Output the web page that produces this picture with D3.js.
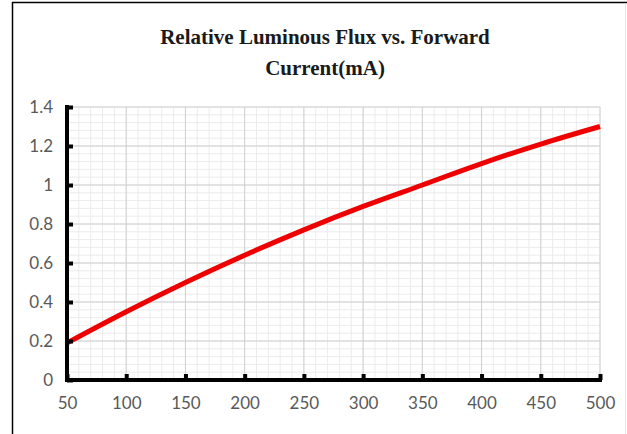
<!DOCTYPE html>
<html><head><meta charset="utf-8">
<script src="https://cdn.jsdelivr.net/npm/d3@7"></script>
<style>html,body{margin:0;padding:0;background:#fff;}svg{display:block;}</style>
</head><body>
<svg id="chart" width="627" height="434"></svg>
<script>
const currents = [50,100,150,200,250,300,350,400,450,500];
const flux = [0.19,0.35,0.50,0.64,0.77,0.89,1.00,1.11,1.21,1.30];
const xTicks = [50,100,150,200,250,300,350,400,450,500];
const yTicks = [0,0.2,0.4,0.6,0.8,1,1.2,1.4];
const titleLines = ["Relative Luminous Flux vs. Forward","Current(mA)"];

const svg = d3.select("#chart");
const x = d3.scaleLinear().domain([50,500]).range([67,600]);
const y = d3.scaleLinear().domain([0,1.4]).range([380,107]);

// frame
svg.append("line").attr("x1",12.5).attr("x2",12.5).attr("y1",2).attr("y2",434).attr("stroke","#000").attr("stroke-width",1.5);
svg.append("line").attr("x1",12).attr("x2",627).attr("y1",2.5).attr("y2",2.5).attr("stroke","#000").attr("stroke-width",1.5);
svg.append("line").attr("x1",625.5).attr("x2",625.5).attr("y1",3).attr("y2",434).attr("stroke","#e6e6e6").attr("stroke-width",1);

// minor grid
const g = svg.append("g");
const xMinor = d3.range(50,500.1,10);
const yMinor = d3.range(0,1.4001,0.04);
g.selectAll(".xm").data(xMinor).join("line")
  .attr("x1",d=>x(d)).attr("x2",d=>x(d)).attr("y1",y(1.4)).attr("y2",y(0))
  .attr("stroke","#ececec").attr("stroke-width",1);
g.selectAll(".ym").data(yMinor).join("line")
  .attr("x1",x(50)).attr("x2",x(500)).attr("y1",d=>y(d)).attr("y2",d=>y(d))
  .attr("stroke","#ececec").attr("stroke-width",1);
// major grid
g.selectAll(".xM").data(xTicks).join("line")
  .attr("x1",d=>x(d)).attr("x2",d=>x(d)).attr("y1",y(1.4)).attr("y2",y(0))
  .attr("stroke","#d0d0d0").attr("stroke-width",1);
g.selectAll(".yM").data(yTicks).join("line")
  .attr("x1",x(50)).attr("x2",x(500)).attr("y1",d=>y(d)).attr("y2",d=>y(d))
  .attr("stroke","#d0d0d0").attr("stroke-width",1);

// line
const line = d3.line().x((d,i)=>x(currents[i])).y(d=>y(d)).curve(d3.curveMonotoneX);
svg.append("path").datum(flux).attr("d",line).attr("fill","none")
  .attr("stroke","#ee0000").attr("stroke-width",5).attr("stroke-linecap","butt");

// axes
const fmt = d=>String(+d.toFixed(1));
const yAxis = svg.append("g").attr("transform",`translate(${x(50)},0)`)
  .call(d3.axisLeft(y).tickValues(yTicks).tickFormat(fmt).tickSizeInner(-6).tickSizeOuter(0).tickPadding(14));
const xAxis = svg.append("g").attr("transform",`translate(0,${y(0)})`)
  .call(d3.axisBottom(x).tickValues(xTicks).tickSizeInner(-6).tickSizeOuter(0).tickPadding(17));
[yAxis,xAxis].forEach(a=>{
  a.select(".domain").attr("stroke","#000").attr("stroke-width",4);
  a.selectAll(".tick line").attr("stroke","#000").attr("stroke-width",4);
  a.selectAll(".tick text").attr("fill","#595959").style("font-family","Lato, 'Open Sans', sans-serif").style("font-size","17px");
});
yAxis.select(".domain").attr("d",`M0,${y(1.4)-2}V${y(0)+2}`);
xAxis.select(".domain").attr("d",`M${x(50)-2},0H${x(500)+2}`);

// title
svg.append("g").selectAll("text").data(titleLines).join("text")
  .attr("x",325).attr("y",(d,i)=>44+i*31).attr("text-anchor","middle")
  .style("font-family","'Liberation Serif','Times New Roman',serif").style("font-weight","bold").style("font-size","21px")
  .attr("fill","#1a1a1a").text(d=>d);
</script>
</body></html>
